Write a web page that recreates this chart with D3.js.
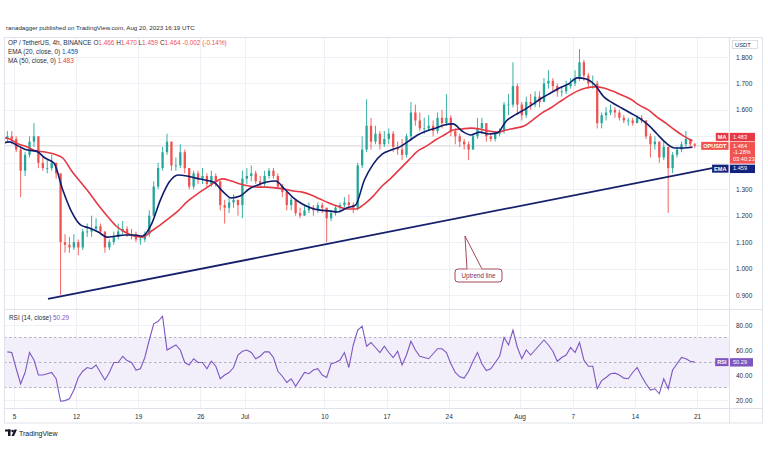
<!DOCTYPE html>
<html><head><meta charset="utf-8">
<script src="https://cdn.jsdelivr.net/npm/d3@7"></script>
<style>body{margin:0;background:#fff}svg{display:block;font-family:"Liberation Sans",Arial,sans-serif}</style>
</head><body><svg id="c" width="768" height="463"></svg>
<script>
// ---- DATA (12h candles, Jun 4 00:00 UTC onwards) ----
const firstOpen = 1.49;
const closes = [1.50,1.49,1.45,1.37,1.43,1.48,1.50,1.40,1.38,1.38,
 1.40,1.36,1.10,1.09,1.08,1.10,1.08,1.14,1.14,1.15,
 1.16,1.14,1.08,1.10,1.12,1.14,1.15,1.13,1.13,1.11,
 1.11,1.13,1.20,1.31,1.38,1.44,1.48,1.39,1.39,1.44,
 1.38,1.31,1.36,1.34,1.35,1.32,1.35,1.33,1.24,1.23,
 1.25,1.26,1.24,1.34,1.35,1.36,1.33,1.32,1.35,1.37,
 1.35,1.31,1.29,1.24,1.26,1.21,1.20,1.22,1.23,1.22,
 1.24,1.23,1.19,1.21,1.23,1.24,1.25,1.24,1.23,1.39,
 1.45,1.54,1.48,1.51,1.47,1.49,1.51,1.46,1.45,1.43,
 1.50,1.59,1.56,1.53,1.53,1.54,1.52,1.57,1.55,1.57,
 1.52,1.50,1.48,1.47,1.45,1.50,1.53,1.55,1.50,1.49,
 1.51,1.52,1.62,1.62,1.69,1.62,1.58,1.63,1.62,1.65,
 1.63,1.70,1.71,1.69,1.67,1.67,1.69,1.70,1.72,1.78,
 1.73,1.70,1.70,1.55,1.58,1.59,1.60,1.59,1.57,1.56,
 1.56,1.55,1.57,1.56,1.50,1.47,1.48,1.42,1.46,1.38,
 1.43,1.45,1.47,1.49,1.47,1.464];
const highs = [1.52,1.52,1.50,1.46,1.44,1.50,1.55,1.50,1.42,1.41,
 1.43,1.40,1.36,1.13,1.12,1.13,1.11,1.15,1.17,1.20,
 1.19,1.17,1.14,1.11,1.14,1.17,1.18,1.16,1.15,1.14,
 1.12,1.14,1.22,1.33,1.40,1.46,1.51,1.48,1.42,1.47,
 1.45,1.38,1.37,1.37,1.38,1.36,1.37,1.36,1.33,1.26,
 1.27,1.28,1.26,1.37,1.38,1.39,1.37,1.35,1.37,1.38,
 1.38,1.36,1.32,1.29,1.27,1.26,1.23,1.24,1.25,1.24,
 1.25,1.25,1.23,1.22,1.24,1.25,1.27,1.28,1.25,1.40,
 1.50,1.64,1.57,1.54,1.52,1.52,1.53,1.52,1.48,1.49,
 1.51,1.63,1.62,1.59,1.57,1.58,1.56,1.59,1.60,1.66,
 1.58,1.53,1.51,1.49,1.48,1.51,1.57,1.57,1.55,1.51,
 1.52,1.53,1.63,1.66,1.78,1.70,1.63,1.65,1.66,1.67,
 1.67,1.72,1.75,1.72,1.70,1.69,1.71,1.72,1.75,1.83,
 1.79,1.74,1.73,1.71,1.59,1.61,1.62,1.61,1.60,1.58,
 1.57,1.57,1.58,1.58,1.56,1.51,1.50,1.48,1.48,1.46,
 1.44,1.46,1.48,1.52,1.49,1.475];
const lows = [1.48,1.47,1.44,1.27,1.35,1.42,1.46,1.38,1.37,1.36,
 1.37,1.34,0.90,1.06,1.06,1.07,1.05,1.07,1.12,1.12,
 1.14,1.13,1.06,1.07,1.09,1.11,1.13,1.12,1.11,1.10,
 1.09,1.10,1.12,1.20,1.30,1.37,1.43,1.37,1.37,1.38,
 1.36,1.30,1.30,1.32,1.32,1.31,1.31,1.31,1.22,1.17,
 1.21,1.23,1.20,1.19,1.32,1.33,1.32,1.31,1.31,1.34,
 1.34,1.30,1.27,1.22,1.22,1.20,1.19,1.20,1.21,1.20,
 1.21,1.21,1.10,1.18,1.20,1.22,1.23,1.23,1.21,1.22,
 1.38,1.44,1.45,1.47,1.45,1.46,1.47,1.44,1.43,1.41,
 1.42,1.49,1.54,1.52,1.51,1.52,1.50,1.51,1.53,1.54,
 1.50,1.47,1.46,1.45,1.41,1.45,1.49,1.51,1.48,1.48,
 1.48,1.50,1.51,1.58,1.61,1.58,1.56,1.57,1.60,1.61,
 1.61,1.63,1.68,1.67,1.65,1.65,1.66,1.68,1.69,1.71,
 1.71,1.68,1.68,1.53,1.53,1.56,1.58,1.57,1.56,1.55,
 1.54,1.54,1.55,1.55,1.49,1.42,1.45,1.40,1.41,1.21,
 1.36,1.42,1.44,1.46,1.46,1.455];
// daily (noon, from Jun 3) readings of the two moving averages
const emaDaily = [1.471,1.479,1.463,1.448,1.444,1.418,1.399,1.297,1.214,1.165,
 1.153,1.138,1.119,1.123,1.127,1.127,1.123,1.168,1.259,1.327,
 1.354,1.350,1.342,1.335,1.327,1.293,1.267,1.274,1.301,1.316,
 1.327,1.331,1.301,1.267,1.244,1.229,1.221,1.218,1.214,1.229,
 1.240,1.335,1.395,1.433,1.448,1.460,1.482,1.505,1.520,1.531,
 1.543,1.547,1.520,1.505,1.516,1.509,1.513,1.558,1.581,1.600,
 1.622,1.645,1.664,1.683,1.698,1.721,1.717,1.694,1.649,1.626,
 1.607,1.588,1.569,1.543,1.509,1.475,1.456,1.456,1.459];
const maDaily = [1.497,1.490,1.471,1.460,1.444,1.441,1.433,1.418,1.369,1.327,
 1.286,1.240,1.199,1.161,1.138,1.123,1.119,1.142,1.165,1.191,
 1.218,1.252,1.278,1.301,1.323,1.339,1.331,1.320,1.312,1.308,
 1.308,1.305,1.301,1.293,1.289,1.278,1.263,1.248,1.236,1.225,
 1.225,1.244,1.274,1.312,1.342,1.376,1.410,1.444,1.463,1.486,
 1.505,1.524,1.528,1.531,1.528,1.520,1.516,1.524,1.531,1.539,
 1.562,1.588,1.607,1.630,1.652,1.671,1.683,1.687,1.683,1.671,
 1.656,1.641,1.618,1.600,1.573,1.550,1.524,1.501,1.483];
const rsiValues = [58.5,58,45,33,42,58,52,40,40,41,
 42,37,19,19.5,21,28,38,43,46,45,
 48,42,36,42,50,50,55,51.5,50,44,
 45,54,68,81,83,87,60,62,64,60,
 50,48,53,50,50,45,51,47,37,40,
 42,46,56,59,60,58,53,55,58.5,58.5,
 54,43,39,34,37,31,36.5,42,41,44,
 45,40,38,49,50,52,58,46,64,76,
 79,63,66,62,58,63,58,54,59,48,
 56,67,60,55,54,53,57,61,61,58,
 49,42,38.5,37.5,43,51,58,49,43.5,45,
 50,55,70,64,76,62,53,60,56,60,
 64,68,64,59,51,54,56,62,58,66,
 52,47,47,29,35.5,38,41,41.5,40,37.5,
 37,42,46,39,33,28,29,25,37,29,
 44,49,54,53,51,50.29];
const priceTicks = [0.9,1.0,1.1,1.2,1.3,1.4,1.5,1.6,1.7,1.8];
const rsiTicks = [20,40,60,80];
const rsiLevels = [70,50,30];
const dateTicks = ["2023-06-05","2023-06-12","2023-06-19","2023-06-26","2023-07-01","2023-07-10","2023-07-17","2023-07-24","2023-08-01","2023-08-07","2023-08-14","2023-08-21"];
const dateTickLabels = ["5","12","19","26","Jul","10","17","24","Aug","7","14","21"];
const trendLine = [{date:"2023-06-08T20:00:00Z", price:0.885},{date:"2023-08-22T17:00:00Z", price:1.380}];
const lastOHLC = [["O",1.466],["H",1.470],["L",1.459],["C",1.464]];
const lastPrice = 1.464, lastEma = 1.459, lastMa = 1.483, lastRsi = 50.29;

// ---- LAYOUT ----
const L=4, R=729, PT=38, PB=309, RT=310, RB=408, AB=423, FR=762;
const UP="#26a69a", DN="#ef5350", EMA_C="#0f1c6e", MA_C="#e53945", RSI_C="#7e57c2";
const svg = d3.select("#c");
const x = d3.scaleUtc().domain([new Date(Date.UTC(2023,5,5)), new Date(Date.UTC(2023,7,21))]).range([14,697]);
const y = d3.scaleLinear().domain([0.9,1.8]).range([295,57]);
const yr = d3.scaleLinear().domain([20,80]).range([400,325]);
const H12 = 12*3600e3, D1 = 24*3600e3;
const candles = closes.map((c,i)=>({
  date:new Date(Date.UTC(2023,5,4,6)+i*H12),
  o: i===0?firstOpen:closes[i-1], h:highs[i], l:lows[i], c}));
const emaPts = emaDaily.map((v,k)=>({date:new Date(Date.UTC(2023,5,3,12)+k*D1), v}));
const maPts = maDaily.map((v,k)=>({date:new Date(Date.UTC(2023,5,3,12)+k*D1), v}));
const rsiPts = rsiValues.map((v,i)=>({date:candles[i].date, v}));

const defs = svg.append("defs");
defs.append("clipPath").attr("id","cp").append("rect").attr("x",L).attr("y",PT).attr("width",R-L).attr("height",PB-PT);
defs.append("clipPath").attr("id","cr").append("rect").attr("x",L).attr("y",RT).attr("width",R-L).attr("height",RB-RT);

// header
svg.append("text").attr("x",6).attr("y",30).attr("font-size",6.2).attr("fill","#2a2e39")
  .text("ranadagger published on TradingView.com, Aug 20, 2023 16:19 UTC");

// grid
const grid = svg.append("g").attr("stroke","#eef0f5").attr("stroke-width",1);
priceTicks.forEach(p=>grid.append("line").attr("x1",L).attr("x2",R).attr("y1",Math.round(y(p))+0.5).attr("y2",Math.round(y(p))+0.5));
rsiTicks.forEach(v=>grid.append("line").attr("x1",L).attr("x2",R).attr("y1",Math.round(yr(v))+0.5).attr("y2",Math.round(yr(v))+0.5));
dateTicks.forEach(d=>{const xx=Math.round(x(new Date(d)))+0.5;
  grid.append("line").attr("x1",xx).attr("x2",xx).attr("y1",PT).attr("y2",RB);});

// RSI band
svg.append("rect").attr("x",L).attr("width",R-L).attr("y",yr(70)).attr("height",yr(30)-yr(70)).attr("fill","#f2eefa");
rsiLevels.forEach(v=>svg.append("line").attr("x1",L).attr("x2",R).attr("y1",yr(v)).attr("y2",yr(v))
  .attr("stroke","#a4a0b0").attr("stroke-width",0.8).attr("stroke-dasharray","2.5,2.5"));

// last price line
svg.append("line").attr("x1",L).attr("x2",R).attr("y1",y(lastPrice)).attr("y2",y(lastPrice)).attr("stroke","#d4d4d8").attr("stroke-width",1);

// candles
const cg = svg.append("g").attr("clip-path","url(#cp)");
const bw = 2.3;
cg.selectAll("line.w").data(candles).join("line").attr("class","w")
  .attr("x1",d=>x(d.date)).attr("x2",d=>x(d.date)).attr("y1",d=>y(d.h)).attr("y2",d=>y(d.l))
  .attr("stroke",d=>d.c>=d.o?UP:DN).attr("stroke-width",0.9);
cg.selectAll("rect.b").data(candles).join("rect").attr("class","b")
  .attr("x",d=>x(d.date)-bw/2).attr("width",bw)
  .attr("y",d=>y(Math.max(d.o,d.c))).attr("height",d=>Math.max(0.8,Math.abs(y(d.o)-y(d.c))))
  .attr("fill",d=>d.c>=d.o?UP:DN);

// moving averages
const ln = d3.line().x(d=>x(d.date)).y(d=>y(d.v)).curve(d3.curveMonotoneX);
cg.append("path").attr("d",ln(maPts)).attr("fill","none").attr("stroke",MA_C).attr("stroke-width",1.6);
cg.append("path").attr("d",ln(emaPts)).attr("fill","none").attr("stroke",EMA_C).attr("stroke-width",1.6);

// uptrend line
const tl = trendLine.map(d=>({date:new Date(d.date), v:d.price}));
svg.append("line").attr("x1",x(tl[0].date)).attr("y1",y(tl[0].v)).attr("x2",x(tl[1].date)).attr("y2",y(tl[1].v))
  .attr("stroke","#17206b").attr("stroke-width",1.8);

// callout
const co = svg.append("g");
co.append("path").attr("d","M467,269 L465,236 L482,269").attr("fill","#fff").attr("stroke","#9b3444").attr("stroke-width",0.9);
co.append("rect").attr("x",455).attr("y",269).attr("width",47).attr("height",13).attr("rx",3).attr("fill","#fff").attr("stroke","#9b3444").attr("stroke-width",0.9);
co.append("line").attr("x1",467.5).attr("x2",481.5).attr("y1",269).attr("y2",269).attr("stroke","#fff").attr("stroke-width",1.2);
co.append("text").attr("x",478.5).attr("y",278).attr("text-anchor","middle").attr("font-size",6.3).attr("fill","#8a2a38").text("Uptrend line");

// RSI line
svg.append("g").attr("clip-path","url(#cr)").append("path")
  .attr("d",d3.line().x(d=>x(d.date)).y(d=>yr(d.v))(rsiPts))
  .attr("fill","none").attr("stroke",RSI_C).attr("stroke-width",1.1);

// frame & separators
const fr = svg.append("g").attr("stroke","#dfe2ea").attr("stroke-width",1).attr("fill","none");
fr.append("rect").attr("x",L+0.5).attr("y",PT-0.5).attr("width",FR-L).attr("height",AB-PT+0.5);
fr.append("line").attr("x1",R+0.5).attr("x2",R+0.5).attr("y1",PT).attr("y2",AB);
fr.append("line").attr("x1",L).attr("x2",FR).attr("y1",PB+0.5).attr("y2",PB+0.5);
fr.append("line").attr("x1",L).attr("x2",FR).attr("y1",RB+0.5).attr("y2",RB+0.5);

// label stack positions (last-value tags on the price scale)
const pTop = y(lastPrice)-4;
const LH = 6.6;
const pH = 3*LH+2;
const maTop = pTop-9;
const emTop = pTop+pH+1;
const tagZone = [maTop-3, emTop+11];

// price axis (ticks hidden under the value tags, as on the scale)
const pa = svg.append("g").attr("transform",`translate(${R+4},0)`)
  .call(d3.axisRight(y).tickValues(priceTicks).tickFormat(d3.format(".3f")).tickSize(0));
pa.select(".domain").remove();
pa.selectAll(".tick").filter(d=>y(d)>tagZone[0] && y(d)<tagZone[1]).remove();
pa.selectAll("text").attr("font-size",6.5).attr("fill","#2a2e39").attr("font-family","Liberation Sans, Arial, sans-serif");
const ra = svg.append("g").attr("transform",`translate(${R+4},0)`)
  .call(d3.axisRight(yr).tickValues(rsiTicks).tickFormat(d3.format(".2f")).tickSize(0));
ra.select(".domain").remove();
ra.selectAll("text").attr("font-size",6.5).attr("fill","#2a2e39").attr("font-family","Liberation Sans, Arial, sans-serif");
// USDT box
svg.append("rect").attr("x",732.5).attr("y",40.5).attr("width",25).attr("height",8).attr("fill","#fff").attr("stroke","#d1d4dc").attr("stroke-width",0.8);
svg.append("text").attr("x",735).attr("y",46.6).attr("font-size",5.8).attr("fill","#2a2e39").text("USDT");

// time axis
const ta = svg.append("g").attr("transform",`translate(0,${RB+3})`)
  .call(d3.axisBottom(x).tickValues(dateTicks.map(d=>new Date(d))).tickFormat((d,i)=>dateTickLabels[i]).tickSize(0));
ta.select(".domain").remove();
ta.selectAll("text").attr("font-size",6.5).attr("fill","#2a2e39").attr("font-family","Liberation Sans, Arial, sans-serif");

// right-side labels
function tag(text, xRight, yTop, h, color, fs){
  const g = svg.append("g");
  const r = g.append("rect").attr("fill",color);
  const t = g.append("text").attr("font-size",fs).attr("fill","#fff").attr("font-weight","bold").text(text);
  const w = t.node().getComputedTextLength()+4;
  r.attr("x",xRight-w).attr("y",yTop).attr("width",w).attr("height",h);
  t.attr("x",xRight-w+2).attr("y",yTop+h-2);
}
function valBox(lines, yTop, color, w, lh){
  const h = lines.length*lh+2;
  svg.append("rect").attr("x",730).attr("y",yTop).attr("width",w).attr("height",h).attr("fill",color);
  lines.forEach((s,i)=>svg.append("text").attr("x",733).attr("y",yTop+lh-0.6+i*lh).attr("font-size",5.6).attr("fill","#fff").text(s));
  return h;
}
valBox([d3.format(".3f")(lastPrice),"-1.28%","03:40:23"], pTop, "#f05350", 25, LH);
tag("OPUSDT", 728.5, pTop, 8, "#f05350", 5.6);
valBox([d3.format(".3f")(lastMa)], maTop, MA_C, 25, 6.4);
tag("MA", 728.5, maTop, 8, MA_C, 5.6);
valBox([d3.format(".3f")(lastEma)], emTop, "#12237e", 25, 6.4);
tag("EMA", 728.5, emTop, 8, "#12237e", 5.6);
const rTop = yr(lastRsi)-4;
valBox([d3.format(".2f")(lastRsi)], rTop, RSI_C, 23, 6.4);
tag("RSI", 728.5, rTop, 8, RSI_C, 5.6);

// legends
const lg1 = svg.append("text").attr("x",8).attr("y",45).attr("font-size",6.4).attr("fill","#2a2e39");
lg1.append("tspan").text("OP / TetherUS, 4h, BINANCE ");
lastOHLC.forEach(([k,v])=>{lg1.append("tspan").text(" "+k); lg1.append("tspan").attr("fill",DN).text(d3.format(".3f")(v));});
lg1.append("tspan").attr("fill",DN).text(" -0.002 (-0.14%)");
const lg2 = svg.append("text").attr("x",8).attr("y",54).attr("font-size",6.4).attr("fill","#2a2e39");
lg2.append("tspan").text("EMA (20, close, 0) "); lg2.append("tspan").attr("fill","#2443a8").text(d3.format(".3f")(lastEma));
const lg3 = svg.append("text").attr("x",8).attr("y",63).attr("font-size",6.4).attr("fill","#2a2e39");
lg3.append("tspan").text("MA (50, close, 0) "); lg3.append("tspan").attr("fill",MA_C).text(d3.format(".3f")(lastMa));
const lg4 = svg.append("text").attr("x",9).attr("y",320).attr("font-size",6.4).attr("fill","#2a2e39");
lg4.append("tspan").text("RSI (14, close) "); lg4.append("tspan").attr("fill",RSI_C).text(d3.format(".2f")(lastRsi));

// TradingView logo
const lo = svg.append("g").attr("fill","#131722");
lo.append("rect").attr("x",5).attr("y",429.5).attr("width",5.5).attr("height",2);
lo.append("rect").attr("x",8).attr("y",429.5).attr("width",2.5).attr("height",6.5);
lo.append("circle").attr("cx",12.6).attr("cy",431).attr("r",1.3);
lo.append("path").attr("d","M14.5,429.5 L17,429.5 L14,436 L11.5,436 Z");
svg.append("text").attr("x",19).attr("y",435.5).attr("font-size",7).attr("fill","#131722").text("TradingView");
</script></body></html>
